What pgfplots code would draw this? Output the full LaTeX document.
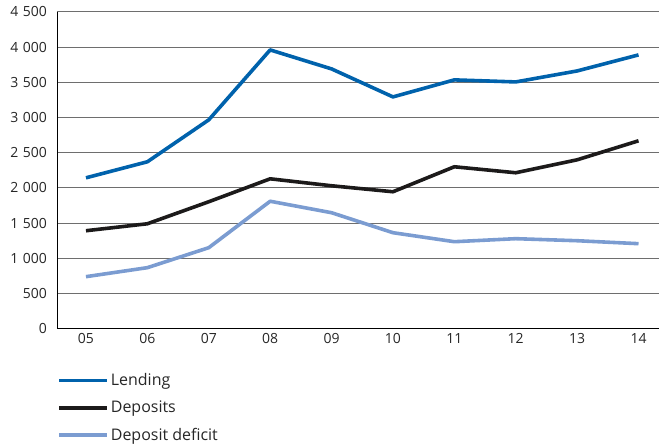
\documentclass[border=0pt]{standalone}
\usepackage{fontspec}
\setmainfont{Open Sans}
\usepackage{pgfplots}
\pgfplotsset{compat=1.18}
\definecolor{lend}{HTML}{0062AC}
\definecolor{dep}{HTML}{1C1A1A}
\definecolor{def}{HTML}{7B9CD1}
\definecolor{gridc}{HTML}{6E6E6E}
\begin{document}
\begin{tikzpicture}
\begin{axis}[
  scale only axis,
  width=603pt, height=317pt,
  xmin=-0.47, xmax=9.34,
  ymin=0, ymax=4500,
  ytick={0,500,...,4500},
  xtick={0,...,9},
  xticklabels={05,06,07,08,09,10,11,12,13,14},
  axis lines*=left,
  axis line style={black, line width=1.2pt, -},
  ymajorgrids,
  major grid style={gridc, line width=1pt},
  tick style={draw=none},
  /pgf/number format/assume math mode=true,
  /pgf/number format/1000 sep={\ },
  ticklabel style={font=\fontsize{14}{16}\selectfont, text=black!85},
  yticklabel style={text width=47pt, align=right, inner xsep=0pt, xshift=-10pt},
  xticklabel style={yshift=-1pt},
  legend style={at={(0,-0.135)}, anchor=north west, draw=none, fill=none,
    font=\fontsize{16}{17}\selectfont, row sep=10pt, inner sep=0pt,
    text=black!85},
  legend cell align=left,
  legend image code/.code={\draw[#1, line cap=butt] (0pt,0pt) -- (48pt,0pt);},
  line join=round,
  extra description/.code={\path (rel axis cs:0,1) ++(0pt,12pt);},
]
\addplot[lend, line width=3.6pt] coordinates {(0,2143) (1,2371) (2,2967) (3,3961) (4,3691) (5,3293) (6,3535) (7,3506) (8,3662) (9,3890)};
\addlegendentry{Lending}
\addplot[dep, line width=3.6pt] coordinates {(0,1391) (1,1490) (2,1803) (3,2129) (4,2030) (5,1945) (6,2300) (7,2215) (8,2399) (9,2669)};
\addlegendentry{Deposits}
\addplot[def, line width=3.6pt] coordinates {(0,738) (1,866) (2,1150) (3,1810) (4,1647) (5,1363) (6,1235) (7,1278) (8,1249) (9,1207)};
\addlegendentry{Deposit deficit}
\end{axis}
\end{tikzpicture}
\end{document}
